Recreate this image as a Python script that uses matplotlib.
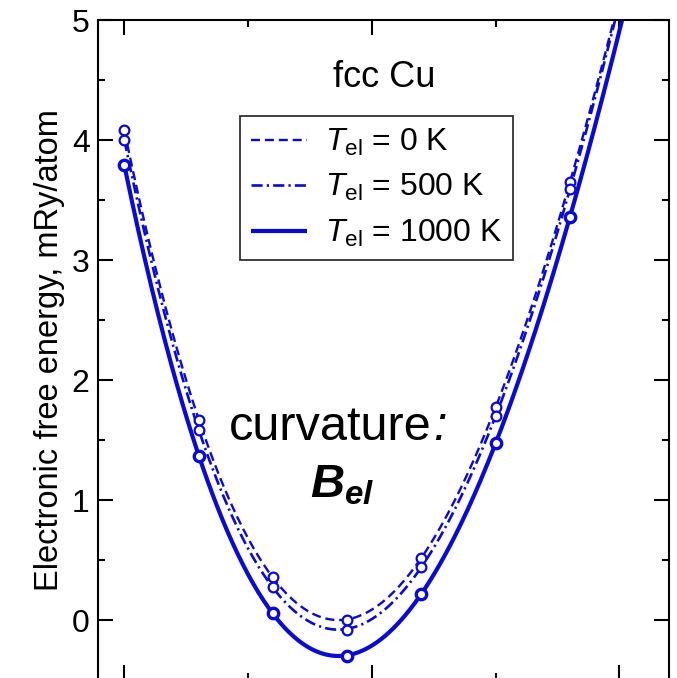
import numpy as np
import matplotlib
matplotlib.use("Agg")
import matplotlib.pyplot as plt

plt.rcParams['font.family'] = ['Liberation Sans', 'DejaVu Sans']
plt.rcParams['mathtext.fontset'] = 'custom'
plt.rcParams['mathtext.rm'] = 'Liberation Sans'
plt.rcParams['mathtext.it'] = 'Liberation Sans:italic'
plt.rcParams['mathtext.bf'] = 'Liberation Sans:bold:italic'

# -------------------------------
# DATA
# -------------------------------
# volume points, arbitrary units (no x labels in the figure)
x_pts = [0.0, 0.6, 1.2, 1.8, 2.4, 3.0, 3.6]
f_0K = [4.08, 1.67, 0.36, 0.00, 0.52, 1.775, 3.65]
f_500K = [4.00, 1.585, 0.275, -0.08, 0.445, 1.70, 3.59]
f_1000K = [3.79, 1.37, 0.06, -0.30, 0.22, 1.475, 3.36]
labels = [r"$T_{\rm el}$ = 0 K", r"$T_{\rm el}$ = 500 K", r"$T_{\rm el}$ = 1000 K"]

blue = '#0a0ad8'

fig = plt.figure(figsize=(6.77, 6.78), dpi=100)
ax = fig.add_axes([98 / 677, -2 / 678, 571 / 677, 660 / 678])

series = [f_0K, f_500K, f_1000K]
# dashes given in points
styles = [
    dict(lw=1.7, dashes=(6.5, 3.5), mew=1.6, ms=7.0),
    dict(lw=1.9, dashes=(8.0, 3.0, 1.6, 3.0), mew=1.6, ms=7.0),
    dict(lw=3.0, dashes=None, mew=2.4, ms=7.5),
]

x_fine = np.linspace(0.0, 4.1, 300)
for ys, st, lab in zip(series, styles, labels):
    # smooth fit through the points, like the original curves
    coef = np.polyfit(x_pts, ys, 4)
    line, = ax.plot(x_fine, np.polyval(coef, x_fine), color=blue,
                    lw=st['lw'], label=lab, solid_capstyle='butt')
    if st['dashes'] is not None:
        line.set_dashes([d / st['lw'] for d in st['dashes']])
    ax.plot(x_pts, ys, 'o', color=blue, mfc='white', mec=blue,
            ms=st['ms'], mew=st['mew'], zorder=3)

ax.set_xlim(-0.213, 4.40)
ax.set_ylim(-0.456, 5.0)

ax.set_xticks([0, 2, 4])
ax.set_xticks([1, 3], minor=True)
ax.set_yticks([0, 1, 2, 3, 4, 5])
ax.set_yticks(np.arange(-0.5, 5.0, 0.5), minor=True)
ax.set_xticklabels([])
ax.tick_params(which='both', direction='in', top=True, right=True,
               width=1.5, color='black')
ax.tick_params(which='major', length=11, labelsize=23, pad=6)
ax.tick_params(which='minor', length=5)
for sp in ax.spines.values():
    sp.set_linewidth(1.5)

ax.set_ylabel("Electronic free energy, mRy/atom", fontsize=23.5, labelpad=5)

ax.text(0.501, 0.898, "fcc Cu", transform=ax.transAxes, fontsize=26,
        ha='center', va='baseline')
curv = ax.text(0.229, 0.364, "curvature", transform=ax.transAxes,
               fontsize=35, ha='left', va='baseline')
ax.annotate(":", xy=(1, 0), xycoords=curv, fontsize=35, fontstyle='italic',
            ha='left', va='bottom', xytext=(1, 0), textcoords='offset points')
ax.text(0.371, 0.277, r"$\mathbf{B}_{\mathbf{el}}$", transform=ax.transAxes,
        fontsize=34, ha='left', va='baseline')

leg = ax.legend(loc='upper left', bbox_to_anchor=(0.249, 0.855),
                fontsize=23, frameon=True, fancybox=False,
                handlelength=1.75, handletextpad=0.55, labelspacing=0.45,
                borderpad=0.35, borderaxespad=0)
leg.get_frame().set_edgecolor('black')
leg.get_frame().set_linewidth(1.3)

fig.savefig("out.png", dpi=100)
